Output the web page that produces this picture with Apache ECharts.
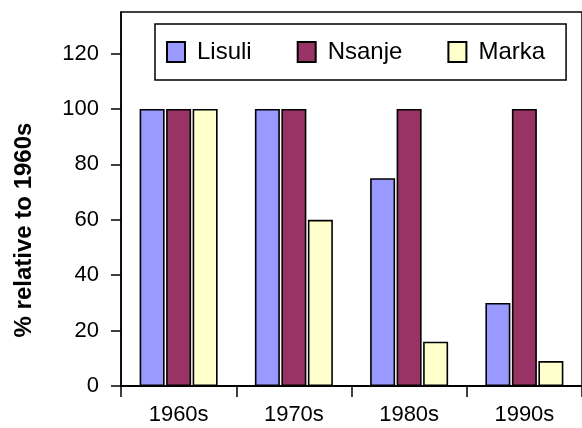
<!DOCTYPE html>
<html>
<head>
<meta charset="utf-8">
<script src="https://cdn.jsdelivr.net/npm/echarts@6/dist/echarts.min.js"></script>
<style>
  html, body { margin: 0; padding: 0; background: #fff; }
  #chart { width: 582px; height: 428px; }
</style>
</head>
<body>
<div id="chart"></div>
<script>
// Decades on the category axis
const decades = ['1960s', '1970s', '1980s', '1990s'];
// Each site's value as a percentage of its 1960s level
const lisuli = [100, 100, 75, 30];
const nsanje = [100, 100, 100, 100];
const marka = [100, 60, 16, 9];
// Labelled ticks on the value axis
const yTicks = [0, 20, 40, 60, 80, 100, 120];

const FONT = '"Liberation Sans", Arial, sans-serif';

const chart = echarts.init(document.getElementById('chart'), null, { renderer: 'canvas' });

function barSeries(name, data, color) {
  return {
    name: name,
    type: 'bar',
    data: data,
    barWidth: 25,
    barGap: '6%',
    itemStyle: { color: color, borderColor: '#000', borderWidth: 1.6 }
  };
}

chart.setOption({
  animation: false,
  backgroundColor: '#fff',
  grid: {
    left: 121, top: 12, width: 470, bottom: 42,
    show: true, borderColor: '#000', borderWidth: 1.5
  },
  legend: {
    left: 155, top: 24,
    orient: 'horizontal',
    icon: 'rect',
    itemWidth: 18, itemHeight: 20, itemGap: 45,
    padding: [16, 21, 16, 11],
    borderColor: '#000', borderWidth: 1.5,
    textStyle: { fontFamily: FONT, fontSize: 24, color: '#000', padding: [0, 0, 0, 7] },
    data: ['Lisuli', 'Nsanje', 'Marka']
  },
  xAxis: {
    type: 'category',
    data: decades,
    axisLine: { lineStyle: { color: '#000', width: 2 } },
    axisTick: { show: true, length: 11, lineStyle: { color: '#000', width: 1.5 } },
    axisLabel: { fontFamily: FONT, fontSize: 22, color: '#000', margin: 18 }
  },
  yAxis: {
    type: 'value',
    min: 0, max: 135, interval: 20,
    splitLine: { show: false },
    axisLine: { show: true, lineStyle: { color: '#000', width: 1.5 } },
    axisTick: { show: true, length: 10, customValues: yTicks, lineStyle: { color: '#000', width: 1.5 } },
    axisLabel: { fontFamily: FONT, fontSize: 22, color: '#000', margin: 22, customValues: yTicks }
  },
  graphic: [{
    type: 'text',
    x: 24, y: 230,
    rotation: Math.PI / 2,
    style: {
      text: '% relative to 1960s',
      font: 'bold 24px ' + FONT,
      fill: '#000',
      align: 'center',
      verticalAlign: 'middle'
    }
  }],
  series: [
    barSeries('Lisuli', lisuli, '#9999FF'),
    barSeries('Nsanje', nsanje, '#993366'),
    barSeries('Marka', marka, '#FFFFCC')
  ]
});
</script>
</body>
</html>
